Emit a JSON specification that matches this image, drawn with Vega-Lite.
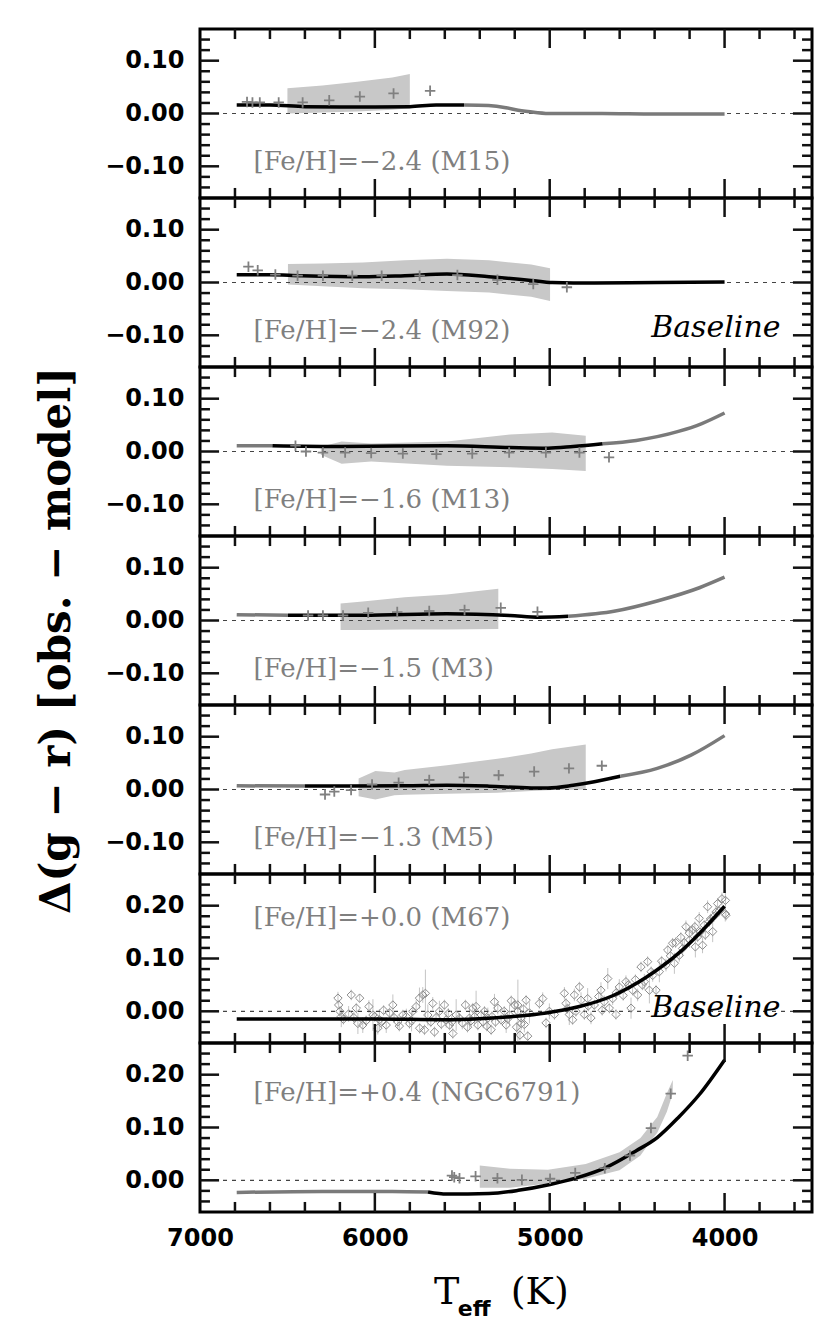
{
"$schema":"https://vega.github.io/schema/vega-lite/v6.json",
"background":"white",
"padding":{"left":34,"top":26,"right":4,"bottom":4},
"autosize":{"type":"pad"},
"spacing":0,
"bounds":"flush",
"datasets":{
"xmaj":[{"v":6000},{"v":5000},{"v":4000}],
"xmin":[{"v":6800},{"v":6600},{"v":6400},{"v":6200},{"v":5800},{"v":5600},{"v":5400},{"v":5200},{"v":4800},{"v":4600},{"v":4400},{"v":4200},{"v":3800},{"v":3600}],
"ymaj1":[{"v":-0.1},{"v":0},{"v":0.1}],
"ymin1":[{"v":-0.14},{"v":-0.12},{"v":-0.08},{"v":-0.06},{"v":-0.04},{"v":-0.02},{"v":0.02},{"v":0.04},{"v":0.06},{"v":0.08},{"v":0.12},{"v":0.14}],
"ymaj2":[{"v":0},{"v":0.1},{"v":0.2}],
"ymin2":[{"v":-0.04},{"v":-0.02},{"v":0.02},{"v":0.04},{"v":0.06},{"v":0.08},{"v":0.12},{"v":0.14},{"v":0.16},{"v":0.18},{"v":0.22},{"v":0.24}],
"lines":[
{"p":"M15","s":"a","c":"k","T":6790,"y":0.016},{"p":"M15","s":"a","c":"k","T":6600,"y":0.016},{"p":"M15","s":"a","c":"k","T":6400,"y":0.013},{"p":"M15","s":"a","c":"k","T":6200,"y":0.0125},{"p":"M15","s":"a","c":"k","T":6000,"y":0.0125},{"p":"M15","s":"a","c":"k","T":5800,"y":0.013},{"p":"M15","s":"a","c":"k","T":5650,"y":0.016},{"p":"M15","s":"a","c":"k","T":5490,"y":0.016},
{"p":"M15","s":"b","c":"g","T":5490,"y":0.016},{"p":"M15","s":"b","c":"g","T":5350,"y":0.015},{"p":"M15","s":"b","c":"g","T":5250,"y":0.011},{"p":"M15","s":"b","c":"g","T":5180,"y":0.006},{"p":"M15","s":"b","c":"g","T":5080,"y":0.002},{"p":"M15","s":"b","c":"g","T":4990,"y":0.0},{"p":"M15","s":"b","c":"g","T":4700,"y":0.0},{"p":"M15","s":"b","c":"g","T":4400,"y":-0.001},{"p":"M15","s":"b","c":"g","T":4000,"y":-0.001},
{"p":"M92","s":"a","c":"k","T":6790,"y":0.0146},{"p":"M92","s":"a","c":"k","T":6600,"y":0.0146},{"p":"M92","s":"a","c":"k","T":6430,"y":0.013},{"p":"M92","s":"a","c":"k","T":6069,"y":0.011},{"p":"M92","s":"a","c":"k","T":5829,"y":0.013},{"p":"M92","s":"a","c":"k","T":5588,"y":0.016},{"p":"M92","s":"a","c":"k","T":5347,"y":0.011},{"p":"M92","s":"a","c":"k","T":5106,"y":0.004},{"p":"M92","s":"a","c":"k","T":4986,"y":0.0},{"p":"M92","s":"a","c":"k","T":4745,"y":-0.001},{"p":"M92","s":"a","c":"k","T":4385,"y":0.0},{"p":"M92","s":"a","c":"k","T":4000,"y":0.001},
{"p":"M13","s":"a","c":"g","T":6790,"y":0.011},{"p":"M13","s":"a","c":"g","T":6586,"y":0.011},
{"p":"M13","s":"b","c":"k","T":6586,"y":0.011},{"p":"M13","s":"b","c":"k","T":6190,"y":0.0095},{"p":"M13","s":"b","c":"k","T":5588,"y":0.011},{"p":"M13","s":"b","c":"k","T":5227,"y":0.0076},{"p":"M13","s":"b","c":"k","T":5010,"y":0.0063},{"p":"M13","s":"b","c":"k","T":4866,"y":0.0095},{"p":"M13","s":"b","c":"k","T":4697,"y":0.0146},
{"p":"M13","s":"c","c":"g","T":4697,"y":0.0146},{"p":"M13","s":"c","c":"g","T":4505,"y":0.021},{"p":"M13","s":"c","c":"g","T":4264,"y":0.038},{"p":"M13","s":"c","c":"g","T":4130,"y":0.053},{"p":"M13","s":"c","c":"g","T":4000,"y":0.073},
{"p":"M3","s":"a","c":"g","T":6790,"y":0.011},{"p":"M3","s":"a","c":"g","T":6497,"y":0.010},
{"p":"M3","s":"b","c":"k","T":6497,"y":0.010},{"p":"M3","s":"b","c":"k","T":6069,"y":0.010},{"p":"M3","s":"b","c":"k","T":5588,"y":0.0127},{"p":"M3","s":"b","c":"k","T":5227,"y":0.0095},{"p":"M3","s":"b","c":"k","T":5058,"y":0.0063},{"p":"M3","s":"b","c":"k","T":4895,"y":0.008},
{"p":"M3","s":"c","c":"g","T":4895,"y":0.008},{"p":"M3","s":"c","c":"g","T":4625,"y":0.018},{"p":"M3","s":"c","c":"g","T":4385,"y":0.037},{"p":"M3","s":"c","c":"g","T":4144,"y":0.062},{"p":"M3","s":"c","c":"g","T":4000,"y":0.082},
{"p":"M5","s":"a","c":"g","T":6790,"y":0.007},{"p":"M5","s":"a","c":"g","T":6401,"y":0.0065},
{"p":"M5","s":"b","c":"k","T":6401,"y":0.0065},{"p":"M5","s":"b","c":"k","T":5829,"y":0.007},{"p":"M5","s":"b","c":"k","T":5588,"y":0.008},{"p":"M5","s":"b","c":"k","T":5347,"y":0.0063},{"p":"M5","s":"b","c":"k","T":5106,"y":0.003},{"p":"M5","s":"b","c":"k","T":5010,"y":0.003},{"p":"M5","s":"b","c":"k","T":4866,"y":0.008},{"p":"M5","s":"b","c":"k","T":4745,"y":0.0146},{"p":"M5","s":"b","c":"k","T":4596,"y":0.025},
{"p":"M5","s":"c","c":"g","T":4596,"y":0.025},{"p":"M5","s":"c","c":"g","T":4385,"y":0.040},{"p":"M5","s":"c","c":"g","T":4192,"y":0.065},{"p":"M5","s":"c","c":"g","T":4000,"y":0.102},
{"p":"M67","s":"a","c":"k","T":6790,"y":-0.0145},{"p":"M67","s":"a","c":"k","T":6000,"y":-0.0145},{"p":"M67","s":"a","c":"k","T":5600,"y":-0.016},{"p":"M67","s":"a","c":"k","T":5400,"y":-0.014},{"p":"M67","s":"a","c":"k","T":5211,"y":-0.010},{"p":"M67","s":"a","c":"k","T":5021,"y":-0.003},{"p":"M67","s":"a","c":"k","T":4830,"y":0.009},{"p":"M67","s":"a","c":"k","T":4640,"y":0.0295},{"p":"M67","s":"a","c":"k","T":4450,"y":0.064},{"p":"M67","s":"a","c":"k","T":4259,"y":0.111},{"p":"M67","s":"a","c":"k","T":4145,"y":0.147},{"p":"M67","s":"a","c":"k","T":4000,"y":0.199},
{"p":"N6791","s":"a","c":"g","T":6790,"y":-0.023},{"p":"N6791","s":"a","c":"g","T":6300,"y":-0.021},{"p":"N6791","s":"a","c":"g","T":5900,"y":-0.021},{"p":"N6791","s":"a","c":"g","T":5696,"y":-0.022},
{"p":"N6791","s":"b","c":"k","T":5696,"y":-0.022},{"p":"N6791","s":"b","c":"k","T":5588,"y":-0.026},{"p":"N6791","s":"b","c":"k","T":5347,"y":-0.025},{"p":"N6791","s":"b","c":"k","T":5179,"y":-0.019},{"p":"N6791","s":"b","c":"k","T":4998,"y":-0.008},{"p":"N6791","s":"b","c":"k","T":4842,"y":0.005},{"p":"N6791","s":"b","c":"k","T":4673,"y":0.025},{"p":"N6791","s":"b","c":"k","T":4505,"y":0.056},{"p":"N6791","s":"b","c":"k","T":4385,"y":0.081},{"p":"N6791","s":"b","c":"k","T":4264,"y":0.119},{"p":"N6791","s":"b","c":"k","T":4144,"y":0.1625},{"p":"N6791","s":"b","c":"k","T":4000,"y":0.228}
],
"bands":[
{"p":"M15","T":6500,"lo":0.0,"hi":0.048},{"p":"M15","T":6300,"lo":0.002,"hi":0.053},{"p":"M15","T":6100,"lo":0.004,"hi":0.060},{"p":"M15","T":5900,"lo":0.007,"hi":0.068},{"p":"M15","T":5800,"lo":0.010,"hi":0.075},
{"p":"M92","T":6497,"lo":-0.004,"hi":0.035},{"p":"M92","T":6300,"lo":-0.007,"hi":0.036},{"p":"M92","T":6069,"lo":-0.011,"hi":0.038},{"p":"M92","T":5829,"lo":-0.013,"hi":0.042},{"p":"M92","T":5588,"lo":-0.016,"hi":0.045},{"p":"M92","T":5347,"lo":-0.019,"hi":0.042},{"p":"M92","T":5106,"lo":-0.027,"hi":0.034},{"p":"M92","T":4998,"lo":-0.035,"hi":0.027},
{"p":"M13","T":6309,"lo":-0.006,"hi":0.009},{"p":"M13","T":6190,"lo":-0.023,"hi":0.019},{"p":"M13","T":6021,"lo":-0.019,"hi":0.015},{"p":"M13","T":5588,"lo":-0.027,"hi":0.019},{"p":"M13","T":5227,"lo":-0.030,"hi":0.032},{"p":"M13","T":4986,"lo":-0.033,"hi":0.036},{"p":"M13","T":4794,"lo":-0.037,"hi":0.030},
{"p":"M3","T":6196,"lo":-0.018,"hi":0.032},{"p":"M3","T":6069,"lo":-0.018,"hi":0.036},{"p":"M3","T":5829,"lo":-0.017,"hi":0.044},{"p":"M3","T":5588,"lo":-0.017,"hi":0.049},{"p":"M3","T":5294,"lo":-0.016,"hi":0.060},
{"p":"M5","T":6093,"lo":-0.013,"hi":0.021},{"p":"M5","T":5997,"lo":-0.019,"hi":0.035},{"p":"M5","T":5888,"lo":-0.011,"hi":0.032},{"p":"M5","T":5829,"lo":-0.010,"hi":0.037},{"p":"M5","T":5588,"lo":-0.008,"hi":0.046},{"p":"M5","T":5299,"lo":-0.006,"hi":0.058},{"p":"M5","T":5106,"lo":-0.003,"hi":0.068},{"p":"M5","T":4986,"lo":-0.001,"hi":0.076},{"p":"M5","T":4794,"lo":0.0,"hi":0.085},
{"p":"N6791","T":5400,"lo":-0.014,"hi":0.028},{"p":"N6791","T":5227,"lo":-0.014,"hi":0.022},{"p":"N6791","T":5010,"lo":-0.006,"hi":0.020},{"p":"N6791","T":4794,"lo":0.003,"hi":0.031},{"p":"N6791","T":4601,"lo":0.019,"hi":0.053},{"p":"N6791","T":4481,"lo":0.047,"hi":0.080},{"p":"N6791","T":4421,"lo":0.075,"hi":0.105},{"p":"N6791","T":4385,"lo":0.090,"hi":0.120},{"p":"N6791","T":4330,"lo":0.130,"hi":0.165},{"p":"N6791","T":4296,"lo":0.165,"hi":0.190}
],
"plus":[
{"p":"M15","T":6731,"y":0.022},{"p":"M15","T":6700,"y":0.021},{"p":"M15","T":6658,"y":0.021},{"p":"M15","T":6550,"y":0.021},{"p":"M15","T":6413,"y":0.021},{"p":"M15","T":6261,"y":0.025},{"p":"M15","T":6086,"y":0.032},{"p":"M15","T":5893,"y":0.038},{"p":"M15","T":5684,"y":0.043},
{"p":"M92","T":6723,"y":0.030},{"p":"M92","T":6670,"y":0.023},{"p":"M92","T":6569,"y":0.015},{"p":"M92","T":6442,"y":0.013},{"p":"M92","T":6297,"y":0.013},{"p":"M92","T":6129,"y":0.013},{"p":"M92","T":5961,"y":0.013},{"p":"M92","T":5744,"y":0.013},{"p":"M92","T":5528,"y":0.014},{"p":"M92","T":5299,"y":0.005},{"p":"M92","T":5094,"y":-0.003},{"p":"M92","T":4902,"y":-0.009},
{"p":"M13","T":6454,"y":0.011},{"p":"M13","T":6394,"y":0.0},{"p":"M13","T":6297,"y":-0.002},{"p":"M13","T":6170,"y":-0.002},{"p":"M13","T":6021,"y":-0.003},{"p":"M13","T":5840,"y":-0.004},{"p":"M13","T":5648,"y":-0.005},{"p":"M13","T":5443,"y":-0.004},{"p":"M13","T":5232,"y":-0.002},{"p":"M13","T":5022,"y":-0.002},{"p":"M13","T":4830,"y":-0.002},{"p":"M13","T":4661,"y":-0.011},
{"p":"M3","T":6382,"y":0.0095},{"p":"M3","T":6297,"y":0.0095},{"p":"M3","T":6182,"y":0.0095},{"p":"M3","T":6038,"y":0.0146},{"p":"M3","T":5872,"y":0.016},{"p":"M3","T":5689,"y":0.018},{"p":"M3","T":5487,"y":0.020},{"p":"M3","T":5280,"y":0.024},{"p":"M3","T":5070,"y":0.0165},
{"p":"M5","T":6285,"y":-0.0095},{"p":"M5","T":6232,"y":-0.004},{"p":"M5","T":6136,"y":-0.001},{"p":"M5","T":6016,"y":0.0095},{"p":"M5","T":5864,"y":0.013},{"p":"M5","T":5689,"y":0.018},{"p":"M5","T":5491,"y":0.023},{"p":"M5","T":5292,"y":0.027},{"p":"M5","T":5089,"y":0.034},{"p":"M5","T":4890,"y":0.040},{"p":"M5","T":4702,"y":0.045},
{"p":"N6791","T":5559,"y":0.009},{"p":"N6791","T":5546,"y":0.006},{"p":"N6791","T":5516,"y":0.004},{"p":"N6791","T":5424,"y":0.0075},{"p":"N6791","T":5299,"y":0.004},{"p":"N6791","T":5159,"y":0.001},{"p":"N6791","T":4998,"y":0.003},{"p":"N6791","T":4854,"y":0.014},{"p":"N6791","T":4685,"y":0.023},{"p":"N6791","T":4541,"y":0.047},{"p":"N6791","T":4421,"y":0.099},{"p":"N6791","T":4308,"y":0.164},{"p":"N6791","T":4211,"y":0.236}
],
"m67":[
{"T":6211,"y":0.025,"e":0.012},{"T":6207,"y":0.012,"e":0.008},{"T":6200,"y":0.0,"e":0.01},{"T":6192,"y":-0.010,"e":0.02},{"T":6180,"y":-0.015,"e":0.01},{"T":6150,"y":-0.005,"e":0.015},{"T":6135,"y":0.031,"e":0.01},{"T":6120,"y":-0.012,"e":0.012},{"T":6106,"y":0.006,"e":0.01},{"T":6097,"y":-0.023,"e":0.02},{"T":6087,"y":0.025,"e":0.008},{"T":6069,"y":-0.026,"e":0.015},{"T":6050,"y":-0.018,"e":0.01},{"T":6034,"y":0.009,"e":0.012},{"T":6011,"y":-0.007,"e":0.03},{"T":6000,"y":-0.010,"e":0.01},{"T":5983,"y":-0.032,"e":0.012},{"T":5974,"y":-0.016,"e":0.02},{"T":5960,"y":-0.020,"e":0.01},{"T":5950,"y":0.002,"e":0.01},{"T":5935,"y":-0.026,"e":0.015},{"T":5916,"y":-0.003,"e":0.01},{"T":5897,"y":0.012,"e":0.02},{"T":5890,"y":-0.012,"e":0.01},{"T":5869,"y":-0.020,"e":0.012},{"T":5860,"y":-0.028,"e":0.01},{"T":5840,"y":-0.007,"e":0.01},{"T":5820,"y":-0.010,"e":0.015},{"T":5802,"y":-0.023,"e":0.01},{"T":5790,"y":-0.018,"e":0.02},{"T":5783,"y":0.0,"e":0.01},{"T":5764,"y":0.009,"e":0.012},{"T":5745,"y":0.025,"e":0.02},{"T":5744,"y":-0.032,"e":0.01},{"T":5726,"y":0.031,"e":0.015},{"T":5716,"y":-0.035,"e":0.01},{"T":5711,"y":0.034,"e":0.045},{"T":5697,"y":-0.007,"e":0.02},{"T":5680,"y":-0.020,"e":0.01},{"T":5669,"y":0.015,"e":0.012},{"T":5659,"y":-0.039,"e":0.01},{"T":5650,"y":-0.012,"e":0.01},{"T":5631,"y":0.0,"e":0.02},{"T":5620,"y":-0.024,"e":0.01},{"T":5602,"y":0.012,"e":0.01},{"T":5592,"y":-0.016,"e":0.015},{"T":5580,"y":-0.004,"e":0.01},{"T":5573,"y":-0.026,"e":0.01},{"T":5560,"y":-0.020,"e":0.012},{"T":5554,"y":-0.042,"e":0.01},{"T":5535,"y":-0.007,"e":0.03},{"T":5516,"y":-0.013,"e":0.01},{"T":5500,"y":-0.022,"e":0.012},{"T":5482,"y":0.012,"e":0.01},{"T":5470,"y":-0.030,"e":0.01},{"T":5459,"y":-0.013,"e":0.02},{"T":5450,"y":-0.018,"e":0.01},{"T":5440,"y":0.006,"e":0.01},{"T":5430,"y":-0.010,"e":0.015},{"T":5421,"y":0.009,"e":0.03},{"T":5411,"y":-0.026,"e":0.01},{"T":5392,"y":-0.007,"e":0.01},{"T":5380,"y":-0.020,"e":0.012},{"T":5373,"y":0.0,"e":0.01},{"T":5360,"y":-0.028,"e":0.01},{"T":5354,"y":-0.013,"e":0.02},{"T":5335,"y":-0.035,"e":0.01},{"T":5330,"y":-0.010,"e":0.01},{"T":5316,"y":0.018,"e":0.015},{"T":5310,"y":-0.020,"e":0.01},{"T":5297,"y":0.006,"e":0.012},{"T":5278,"y":-0.016,"e":0.01},{"T":5260,"y":0.0,"e":0.01},{"T":5249,"y":-0.026,"e":0.015},{"T":5240,"y":-0.014,"e":0.01},{"T":5230,"y":-0.007,"e":0.02},{"T":5220,"y":0.020,"e":0.01},{"T":5201,"y":0.012,"e":0.012},{"T":5190,"y":-0.030,"e":0.01},{"T":5182,"y":0.0,"e":0.06},{"T":5170,"y":-0.045,"e":0.01},{"T":5163,"y":-0.023,"e":0.012},{"T":5150,"y":0.004,"e":0.01},
{"T":5183,"y":0.012,"e":0.01},{"T":5164,"y":-0.0125,"e":0.01},{"T":5145,"y":-0.025,"e":0.015},{"T":5135,"y":0.021,"e":0.01},{"T":5126,"y":-0.047,"e":0.01},{"T":5116,"y":-0.003,"e":0.02},{"T":5059,"y":0.015,"e":0.01},{"T":5040,"y":0.024,"e":0.012},{"T":5021,"y":-0.022,"e":0.01},{"T":5002,"y":0.0,"e":0.015},{"T":4973,"y":-0.006,"e":0.01},{"T":4916,"y":0.034,"e":0.012},{"T":4907,"y":0.015,"e":0.01},{"T":4900,"y":0.005,"e":0.01},{"T":4888,"y":-0.006,"e":0.02},{"T":4869,"y":-0.016,"e":0.01},{"T":4859,"y":0.031,"e":0.012},{"T":4850,"y":0.0,"e":0.01},{"T":4830,"y":0.046,"e":0.01},{"T":4821,"y":0.021,"e":0.015},{"T":4802,"y":-0.006,"e":0.01},{"T":4783,"y":0.024,"e":0.02},{"T":4780,"y":0.010,"e":0.01},{"T":4764,"y":-0.0125,"e":0.012},{"T":4745,"y":0.012,"e":0.01},{"T":4720,"y":0.028,"e":0.01},{"T":4707,"y":0.040,"e":0.015},{"T":4700,"y":0.002,"e":0.01},{"T":4688,"y":0.018,"e":0.012},{"T":4668,"y":0.062,"e":0.02},{"T":4659,"y":0.006,"e":0.01},{"T":4640,"y":0.024,"e":0.012},{"T":4621,"y":-0.006,"e":0.01},{"T":4620,"y":0.035,"e":0.01},{"T":4602,"y":0.046,"e":0.015},{"T":4580,"y":0.030,"e":0.01},{"T":4564,"y":0.056,"e":0.012},{"T":4550,"y":0.050,"e":0.01},{"T":4535,"y":0.006,"e":0.02},{"T":4526,"y":0.040,"e":0.01},{"T":4510,"y":0.060,"e":0.01},{"T":4497,"y":0.031,"e":0.012},{"T":4478,"y":0.084,"e":0.01},{"T":4470,"y":0.050,"e":0.01},{"T":4459,"y":0.056,"e":0.015},{"T":4440,"y":0.094,"e":0.01},{"T":4430,"y":0.040,"e":0.025},{"T":4420,"y":0.075,"e":0.01},{"T":4411,"y":0.068,"e":0.012},{"T":4392,"y":0.040,"e":0.01},{"T":4373,"y":0.075,"e":0.02},{"T":4360,"y":0.095,"e":0.01},{"T":4335,"y":0.0876,"e":0.012},{"T":4325,"y":0.116,"e":0.01},{"T":4310,"y":0.105,"e":0.015},{"T":4297,"y":0.129,"e":0.01},{"T":4287,"y":0.091,"e":0.02},{"T":4280,"y":0.130,"e":0.01},{"T":4259,"y":0.106,"e":0.012},{"T":4250,"y":0.140,"e":0.01},{"T":4240,"y":0.119,"e":0.015},{"T":4230,"y":0.130,"e":0.01},{"T":4221,"y":0.160,"e":0.012},{"T":4202,"y":0.148,"e":0.01},{"T":4200,"y":0.135,"e":0.015},{"T":4183,"y":0.154,"e":0.01},{"T":4170,"y":0.160,"e":0.01},{"T":4167,"y":0.122,"e":0.02},{"T":4154,"y":0.141,"e":0.01},{"T":4145,"y":0.176,"e":0.012},{"T":4140,"y":0.150,"e":0.01},{"T":4126,"y":0.125,"e":0.015},{"T":4116,"y":0.163,"e":0.01},{"T":4110,"y":0.145,"e":0.01},{"T":4097,"y":0.198,"e":0.012},{"T":4087,"y":0.170,"e":0.01},{"T":4080,"y":0.175,"e":0.01},{"T":4068,"y":0.151,"e":0.02},{"T":4060,"y":0.180,"e":0.01},{"T":4049,"y":0.188,"e":0.012},{"T":4040,"y":0.204,"e":0.01},{"T":4030,"y":0.190,"e":0.01},{"T":4015,"y":0.213,"e":0.012},{"T":3995,"y":0.210,"e":0.02},{"T":3996,"y":0.185,"e":0.015},{"T":3992,"y":0.182,"e":0.01}
]
},
"vconcat":[
{"width":612,"height":169,"layer":[
{"data":{"name":"lines"},"transform":[{"filter":"datum.p==='M15'"}],"mark":{"type":"point","opacity":0},"encoding":{"x":{"field":"T","type":"quantitative","scale":{"domain":[3500,7000],"reverse":true,"nice":false,"zero":false},"axis":null},"y":{"field":"y","type":"quantitative","scale":{"domain":[-0.16,0.16],"nice":false,"zero":false},"axis":{"orient":"left","values":[-0.1,0,0.1],"format":".2f","ticks":false,"domain":false,"labelPadding":16,"title":null}}}},
{"data":{"name":"bands"},"transform":[{"filter":"datum.p==='M15'"}],"mark":{"type":"area","color":"#c8c8c8"},"encoding":{"x":{"field":"T","type":"quantitative","axis":null},"y":{"field":"lo","type":"quantitative","axis":null},"y2":{"field":"hi"}}},
{"data":{"values":[{}]},"mark":{"type":"rule","color":"#444444","strokeWidth":1.2,"strokeDash":[4,5]},"encoding":{"y":{"datum":0,"type":"quantitative","axis":null}}},
{"data":{"name":"lines"},"transform":[{"filter":"datum.p==='M15'"}],"mark":{"type":"line","strokeWidth":3.5,"interpolate":"monotone"},"encoding":{"x":{"field":"T","type":"quantitative","axis":null},"y":{"field":"y","type":"quantitative","axis":null},"color":{"field":"c","type":"nominal","scale":{"domain":["k","g"],"range":["#000000","#7a7a7a"]},"legend":null},"detail":{"field":"s"}}},
{"data":{"name":"plus"},"transform":[{"filter":"datum.p==='M15'"}],"mark":{"type":"point","shape":"M-1,0L1,0M0,-1L0,1","size":110,"filled":false,"color":"#808080","strokeWidth":1.8,"opacity":1},"encoding":{"x":{"field":"T","type":"quantitative","axis":null},"y":{"field":"y","type":"quantitative","axis":null}}},
{"data":{"values":[{}]},"mark":{"type":"text","align":"left","baseline":"alphabetic","font":"DejaVu Serif","fontSize":26,"color":"#7f7f7f","text":"[Fe/H]=−2.4 (M15)"},"encoding":{"x":{"datum":6694,"type":"quantitative","axis":null},"y":{"datum":-0.107,"type":"quantitative","axis":null}}},
{"data":{"name":"xmaj"},"mark":{"type":"rule","color":"#111111","strokeWidth":2.5},"encoding":{"x":{"field":"v","type":"quantitative","axis":null},"y":{"datum":-0.16,"type":"quantitative","axis":null},"y2":{"datum":-0.124}}},
{"data":{"name":"xmin"},"mark":{"type":"rule","color":"#111111","strokeWidth":2.5},"encoding":{"x":{"field":"v","type":"quantitative","axis":null},"y":{"datum":-0.16,"type":"quantitative","axis":null},"y2":{"datum":-0.141}}},
{"data":{"name":"xmaj"},"mark":{"type":"rule","color":"#111111","strokeWidth":2.5},"encoding":{"x":{"field":"v","type":"quantitative","axis":null},"y":{"datum":0.16,"type":"quantitative","axis":null},"y2":{"datum":0.124}}},
{"data":{"name":"xmin"},"mark":{"type":"rule","color":"#111111","strokeWidth":2.5},"encoding":{"x":{"field":"v","type":"quantitative","axis":null},"y":{"datum":0.16,"type":"quantitative","axis":null},"y2":{"datum":0.141}}},
{"data":{"name":"ymaj1"},"mark":{"type":"rule","color":"#111111","strokeWidth":2.5},"encoding":{"y":{"field":"v","type":"quantitative","axis":null},"x":{"datum":7000,"type":"quantitative","axis":null},"x2":{"datum":6891}}},
{"data":{"name":"ymin1"},"mark":{"type":"rule","color":"#111111","strokeWidth":2.5},"encoding":{"y":{"field":"v","type":"quantitative","axis":null},"x":{"datum":7000,"type":"quantitative","axis":null},"x2":{"datum":6943}}},
{"data":{"name":"ymaj1"},"mark":{"type":"rule","color":"#111111","strokeWidth":2.5},"encoding":{"y":{"field":"v","type":"quantitative","axis":null},"x":{"datum":3500,"type":"quantitative","axis":null},"x2":{"datum":3609}}},
{"data":{"name":"ymin1"},"mark":{"type":"rule","color":"#111111","strokeWidth":2.5},"encoding":{"y":{"field":"v","type":"quantitative","axis":null},"x":{"datum":3500,"type":"quantitative","axis":null},"x2":{"datum":3557}}}
],"resolve":{"axis":{"x":"independent","y":"independent"}}},

{"width":612,"height":169,"layer":[
{"data":{"name":"lines"},"transform":[{"filter":"datum.p==='M92'"}],"mark":{"type":"point","opacity":0},"encoding":{"x":{"field":"T","type":"quantitative","scale":{"domain":[3500,7000],"reverse":true,"nice":false,"zero":false},"axis":null},"y":{"field":"y","type":"quantitative","scale":{"domain":[-0.16,0.16],"nice":false,"zero":false},"axis":{"orient":"left","values":[-0.1,0,0.1],"format":".2f","ticks":false,"domain":false,"labelPadding":16,"title":null}}}},
{"data":{"name":"bands"},"transform":[{"filter":"datum.p==='M92'"}],"mark":{"type":"area","color":"#c8c8c8"},"encoding":{"x":{"field":"T","type":"quantitative","axis":null},"y":{"field":"lo","type":"quantitative","axis":null},"y2":{"field":"hi"}}},
{"data":{"values":[{}]},"mark":{"type":"rule","color":"#444444","strokeWidth":1.2,"strokeDash":[4,5]},"encoding":{"y":{"datum":0,"type":"quantitative","axis":null}}},
{"data":{"name":"lines"},"transform":[{"filter":"datum.p==='M92'"}],"mark":{"type":"line","strokeWidth":3.5,"interpolate":"monotone"},"encoding":{"x":{"field":"T","type":"quantitative","axis":null},"y":{"field":"y","type":"quantitative","axis":null},"color":{"field":"c","type":"nominal","scale":{"domain":["k","g"],"range":["#000000","#7a7a7a"]},"legend":null},"detail":{"field":"s"}}},
{"data":{"name":"plus"},"transform":[{"filter":"datum.p==='M92'"}],"mark":{"type":"point","shape":"M-1,0L1,0M0,-1L0,1","size":110,"filled":false,"color":"#808080","strokeWidth":1.8,"opacity":1},"encoding":{"x":{"field":"T","type":"quantitative","axis":null},"y":{"field":"y","type":"quantitative","axis":null}}},
{"data":{"values":[{}]},"mark":{"type":"text","align":"left","baseline":"alphabetic","font":"DejaVu Serif","fontSize":26,"color":"#7f7f7f","text":"[Fe/H]=−2.4 (M92)"},"encoding":{"x":{"datum":6694,"type":"quantitative","axis":null},"y":{"datum":-0.107,"type":"quantitative","axis":null}}},
{"data":{"values":[{}]},"mark":{"type":"text","align":"right","baseline":"alphabetic","font":"DejaVu Serif","fontStyle":"italic","fontSize":30,"color":"#000000","text":"Baseline"},"encoding":{"x":{"datum":3680,"type":"quantitative","axis":null},"y":{"datum":-0.104,"type":"quantitative","axis":null}}},
{"data":{"name":"xmaj"},"mark":{"type":"rule","color":"#111111","strokeWidth":2.5},"encoding":{"x":{"field":"v","type":"quantitative","axis":null},"y":{"datum":-0.16,"type":"quantitative","axis":null},"y2":{"datum":-0.124}}},
{"data":{"name":"xmin"},"mark":{"type":"rule","color":"#111111","strokeWidth":2.5},"encoding":{"x":{"field":"v","type":"quantitative","axis":null},"y":{"datum":-0.16,"type":"quantitative","axis":null},"y2":{"datum":-0.141}}},
{"data":{"name":"xmaj"},"mark":{"type":"rule","color":"#111111","strokeWidth":2.5},"encoding":{"x":{"field":"v","type":"quantitative","axis":null},"y":{"datum":0.16,"type":"quantitative","axis":null},"y2":{"datum":0.124}}},
{"data":{"name":"xmin"},"mark":{"type":"rule","color":"#111111","strokeWidth":2.5},"encoding":{"x":{"field":"v","type":"quantitative","axis":null},"y":{"datum":0.16,"type":"quantitative","axis":null},"y2":{"datum":0.141}}},
{"data":{"name":"ymaj1"},"mark":{"type":"rule","color":"#111111","strokeWidth":2.5},"encoding":{"y":{"field":"v","type":"quantitative","axis":null},"x":{"datum":7000,"type":"quantitative","axis":null},"x2":{"datum":6891}}},
{"data":{"name":"ymin1"},"mark":{"type":"rule","color":"#111111","strokeWidth":2.5},"encoding":{"y":{"field":"v","type":"quantitative","axis":null},"x":{"datum":7000,"type":"quantitative","axis":null},"x2":{"datum":6943}}},
{"data":{"name":"ymaj1"},"mark":{"type":"rule","color":"#111111","strokeWidth":2.5},"encoding":{"y":{"field":"v","type":"quantitative","axis":null},"x":{"datum":3500,"type":"quantitative","axis":null},"x2":{"datum":3609}}},
{"data":{"name":"ymin1"},"mark":{"type":"rule","color":"#111111","strokeWidth":2.5},"encoding":{"y":{"field":"v","type":"quantitative","axis":null},"x":{"datum":3500,"type":"quantitative","axis":null},"x2":{"datum":3557}}}
],"resolve":{"axis":{"x":"independent","y":"independent"}}},

{"width":612,"height":169,"layer":[
{"data":{"name":"lines"},"transform":[{"filter":"datum.p==='M13'"}],"mark":{"type":"point","opacity":0},"encoding":{"x":{"field":"T","type":"quantitative","scale":{"domain":[3500,7000],"reverse":true,"nice":false,"zero":false},"axis":null},"y":{"field":"y","type":"quantitative","scale":{"domain":[-0.16,0.16],"nice":false,"zero":false},"axis":{"orient":"left","values":[-0.1,0,0.1],"format":".2f","ticks":false,"domain":false,"labelPadding":16,"title":null}}}},
{"data":{"name":"bands"},"transform":[{"filter":"datum.p==='M13'"}],"mark":{"type":"area","color":"#c8c8c8"},"encoding":{"x":{"field":"T","type":"quantitative","axis":null},"y":{"field":"lo","type":"quantitative","axis":null},"y2":{"field":"hi"}}},
{"data":{"values":[{}]},"mark":{"type":"rule","color":"#444444","strokeWidth":1.2,"strokeDash":[4,5]},"encoding":{"y":{"datum":0,"type":"quantitative","axis":null}}},
{"data":{"name":"lines"},"transform":[{"filter":"datum.p==='M13'"}],"mark":{"type":"line","strokeWidth":3.5,"interpolate":"monotone"},"encoding":{"x":{"field":"T","type":"quantitative","axis":null},"y":{"field":"y","type":"quantitative","axis":null},"color":{"field":"c","type":"nominal","scale":{"domain":["k","g"],"range":["#000000","#7a7a7a"]},"legend":null},"detail":{"field":"s"}}},
{"data":{"name":"plus"},"transform":[{"filter":"datum.p==='M13'"}],"mark":{"type":"point","shape":"M-1,0L1,0M0,-1L0,1","size":110,"filled":false,"color":"#808080","strokeWidth":1.8,"opacity":1},"encoding":{"x":{"field":"T","type":"quantitative","axis":null},"y":{"field":"y","type":"quantitative","axis":null}}},
{"data":{"values":[{}]},"mark":{"type":"text","align":"left","baseline":"alphabetic","font":"DejaVu Serif","fontSize":26,"color":"#7f7f7f","text":"[Fe/H]=−1.6 (M13)"},"encoding":{"x":{"datum":6694,"type":"quantitative","axis":null},"y":{"datum":-0.107,"type":"quantitative","axis":null}}},
{"data":{"name":"xmaj"},"mark":{"type":"rule","color":"#111111","strokeWidth":2.5},"encoding":{"x":{"field":"v","type":"quantitative","axis":null},"y":{"datum":-0.16,"type":"quantitative","axis":null},"y2":{"datum":-0.124}}},
{"data":{"name":"xmin"},"mark":{"type":"rule","color":"#111111","strokeWidth":2.5},"encoding":{"x":{"field":"v","type":"quantitative","axis":null},"y":{"datum":-0.16,"type":"quantitative","axis":null},"y2":{"datum":-0.141}}},
{"data":{"name":"xmaj"},"mark":{"type":"rule","color":"#111111","strokeWidth":2.5},"encoding":{"x":{"field":"v","type":"quantitative","axis":null},"y":{"datum":0.16,"type":"quantitative","axis":null},"y2":{"datum":0.124}}},
{"data":{"name":"xmin"},"mark":{"type":"rule","color":"#111111","strokeWidth":2.5},"encoding":{"x":{"field":"v","type":"quantitative","axis":null},"y":{"datum":0.16,"type":"quantitative","axis":null},"y2":{"datum":0.141}}},
{"data":{"name":"ymaj1"},"mark":{"type":"rule","color":"#111111","strokeWidth":2.5},"encoding":{"y":{"field":"v","type":"quantitative","axis":null},"x":{"datum":7000,"type":"quantitative","axis":null},"x2":{"datum":6891}}},
{"data":{"name":"ymin1"},"mark":{"type":"rule","color":"#111111","strokeWidth":2.5},"encoding":{"y":{"field":"v","type":"quantitative","axis":null},"x":{"datum":7000,"type":"quantitative","axis":null},"x2":{"datum":6943}}},
{"data":{"name":"ymaj1"},"mark":{"type":"rule","color":"#111111","strokeWidth":2.5},"encoding":{"y":{"field":"v","type":"quantitative","axis":null},"x":{"datum":3500,"type":"quantitative","axis":null},"x2":{"datum":3609}}},
{"data":{"name":"ymin1"},"mark":{"type":"rule","color":"#111111","strokeWidth":2.5},"encoding":{"y":{"field":"v","type":"quantitative","axis":null},"x":{"datum":3500,"type":"quantitative","axis":null},"x2":{"datum":3557}}}
],"resolve":{"axis":{"x":"independent","y":"independent"}}},

{"width":612,"height":169,"layer":[
{"data":{"name":"lines"},"transform":[{"filter":"datum.p==='M3'"}],"mark":{"type":"point","opacity":0},"encoding":{"x":{"field":"T","type":"quantitative","scale":{"domain":[3500,7000],"reverse":true,"nice":false,"zero":false},"axis":null},"y":{"field":"y","type":"quantitative","scale":{"domain":[-0.16,0.16],"nice":false,"zero":false},"axis":{"orient":"left","values":[-0.1,0,0.1],"format":".2f","ticks":false,"domain":false,"labelPadding":16,"title":"Δ(g − r) [obs. − model]","titleFont":"DejaVu Serif","titleFontSize":42,"titleFontWeight":"bold","titleColor":"#000000","titlePadding":26,"titleY":104}}}},
{"data":{"name":"bands"},"transform":[{"filter":"datum.p==='M3'"}],"mark":{"type":"area","color":"#c8c8c8"},"encoding":{"x":{"field":"T","type":"quantitative","axis":null},"y":{"field":"lo","type":"quantitative","axis":null},"y2":{"field":"hi"}}},
{"data":{"values":[{}]},"mark":{"type":"rule","color":"#444444","strokeWidth":1.2,"strokeDash":[4,5]},"encoding":{"y":{"datum":0,"type":"quantitative","axis":null}}},
{"data":{"name":"lines"},"transform":[{"filter":"datum.p==='M3'"}],"mark":{"type":"line","strokeWidth":3.5,"interpolate":"monotone"},"encoding":{"x":{"field":"T","type":"quantitative","axis":null},"y":{"field":"y","type":"quantitative","axis":null},"color":{"field":"c","type":"nominal","scale":{"domain":["k","g"],"range":["#000000","#7a7a7a"]},"legend":null},"detail":{"field":"s"}}},
{"data":{"name":"plus"},"transform":[{"filter":"datum.p==='M3'"}],"mark":{"type":"point","shape":"M-1,0L1,0M0,-1L0,1","size":110,"filled":false,"color":"#808080","strokeWidth":1.8,"opacity":1},"encoding":{"x":{"field":"T","type":"quantitative","axis":null},"y":{"field":"y","type":"quantitative","axis":null}}},
{"data":{"values":[{}]},"mark":{"type":"text","align":"left","baseline":"alphabetic","font":"DejaVu Serif","fontSize":26,"color":"#7f7f7f","text":"[Fe/H]=−1.5 (M3)"},"encoding":{"x":{"datum":6694,"type":"quantitative","axis":null},"y":{"datum":-0.107,"type":"quantitative","axis":null}}},
{"data":{"name":"xmaj"},"mark":{"type":"rule","color":"#111111","strokeWidth":2.5},"encoding":{"x":{"field":"v","type":"quantitative","axis":null},"y":{"datum":-0.16,"type":"quantitative","axis":null},"y2":{"datum":-0.124}}},
{"data":{"name":"xmin"},"mark":{"type":"rule","color":"#111111","strokeWidth":2.5},"encoding":{"x":{"field":"v","type":"quantitative","axis":null},"y":{"datum":-0.16,"type":"quantitative","axis":null},"y2":{"datum":-0.141}}},
{"data":{"name":"xmaj"},"mark":{"type":"rule","color":"#111111","strokeWidth":2.5},"encoding":{"x":{"field":"v","type":"quantitative","axis":null},"y":{"datum":0.16,"type":"quantitative","axis":null},"y2":{"datum":0.124}}},
{"data":{"name":"xmin"},"mark":{"type":"rule","color":"#111111","strokeWidth":2.5},"encoding":{"x":{"field":"v","type":"quantitative","axis":null},"y":{"datum":0.16,"type":"quantitative","axis":null},"y2":{"datum":0.141}}},
{"data":{"name":"ymaj1"},"mark":{"type":"rule","color":"#111111","strokeWidth":2.5},"encoding":{"y":{"field":"v","type":"quantitative","axis":null},"x":{"datum":7000,"type":"quantitative","axis":null},"x2":{"datum":6891}}},
{"data":{"name":"ymin1"},"mark":{"type":"rule","color":"#111111","strokeWidth":2.5},"encoding":{"y":{"field":"v","type":"quantitative","axis":null},"x":{"datum":7000,"type":"quantitative","axis":null},"x2":{"datum":6943}}},
{"data":{"name":"ymaj1"},"mark":{"type":"rule","color":"#111111","strokeWidth":2.5},"encoding":{"y":{"field":"v","type":"quantitative","axis":null},"x":{"datum":3500,"type":"quantitative","axis":null},"x2":{"datum":3609}}},
{"data":{"name":"ymin1"},"mark":{"type":"rule","color":"#111111","strokeWidth":2.5},"encoding":{"y":{"field":"v","type":"quantitative","axis":null},"x":{"datum":3500,"type":"quantitative","axis":null},"x2":{"datum":3557}}}
],"resolve":{"axis":{"x":"independent","y":"independent"}}},

{"width":612,"height":169,"layer":[
{"data":{"name":"lines"},"transform":[{"filter":"datum.p==='M5'"}],"mark":{"type":"point","opacity":0},"encoding":{"x":{"field":"T","type":"quantitative","scale":{"domain":[3500,7000],"reverse":true,"nice":false,"zero":false},"axis":null},"y":{"field":"y","type":"quantitative","scale":{"domain":[-0.16,0.16],"nice":false,"zero":false},"axis":{"orient":"left","values":[-0.1,0,0.1],"format":".2f","ticks":false,"domain":false,"labelPadding":16,"title":null}}}},
{"data":{"name":"bands"},"transform":[{"filter":"datum.p==='M5'"}],"mark":{"type":"area","color":"#c8c8c8"},"encoding":{"x":{"field":"T","type":"quantitative","axis":null},"y":{"field":"lo","type":"quantitative","axis":null},"y2":{"field":"hi"}}},
{"data":{"values":[{}]},"mark":{"type":"rule","color":"#444444","strokeWidth":1.2,"strokeDash":[4,5]},"encoding":{"y":{"datum":0,"type":"quantitative","axis":null}}},
{"data":{"name":"lines"},"transform":[{"filter":"datum.p==='M5'"}],"mark":{"type":"line","strokeWidth":3.5,"interpolate":"monotone"},"encoding":{"x":{"field":"T","type":"quantitative","axis":null},"y":{"field":"y","type":"quantitative","axis":null},"color":{"field":"c","type":"nominal","scale":{"domain":["k","g"],"range":["#000000","#7a7a7a"]},"legend":null},"detail":{"field":"s"}}},
{"data":{"name":"plus"},"transform":[{"filter":"datum.p==='M5'"}],"mark":{"type":"point","shape":"M-1,0L1,0M0,-1L0,1","size":110,"filled":false,"color":"#808080","strokeWidth":1.8,"opacity":1},"encoding":{"x":{"field":"T","type":"quantitative","axis":null},"y":{"field":"y","type":"quantitative","axis":null}}},
{"data":{"values":[{}]},"mark":{"type":"text","align":"left","baseline":"alphabetic","font":"DejaVu Serif","fontSize":26,"color":"#7f7f7f","text":"[Fe/H]=−1.3 (M5)"},"encoding":{"x":{"datum":6694,"type":"quantitative","axis":null},"y":{"datum":-0.107,"type":"quantitative","axis":null}}},
{"data":{"name":"xmaj"},"mark":{"type":"rule","color":"#111111","strokeWidth":2.5},"encoding":{"x":{"field":"v","type":"quantitative","axis":null},"y":{"datum":-0.16,"type":"quantitative","axis":null},"y2":{"datum":-0.124}}},
{"data":{"name":"xmin"},"mark":{"type":"rule","color":"#111111","strokeWidth":2.5},"encoding":{"x":{"field":"v","type":"quantitative","axis":null},"y":{"datum":-0.16,"type":"quantitative","axis":null},"y2":{"datum":-0.141}}},
{"data":{"name":"xmaj"},"mark":{"type":"rule","color":"#111111","strokeWidth":2.5},"encoding":{"x":{"field":"v","type":"quantitative","axis":null},"y":{"datum":0.16,"type":"quantitative","axis":null},"y2":{"datum":0.124}}},
{"data":{"name":"xmin"},"mark":{"type":"rule","color":"#111111","strokeWidth":2.5},"encoding":{"x":{"field":"v","type":"quantitative","axis":null},"y":{"datum":0.16,"type":"quantitative","axis":null},"y2":{"datum":0.141}}},
{"data":{"name":"ymaj1"},"mark":{"type":"rule","color":"#111111","strokeWidth":2.5},"encoding":{"y":{"field":"v","type":"quantitative","axis":null},"x":{"datum":7000,"type":"quantitative","axis":null},"x2":{"datum":6891}}},
{"data":{"name":"ymin1"},"mark":{"type":"rule","color":"#111111","strokeWidth":2.5},"encoding":{"y":{"field":"v","type":"quantitative","axis":null},"x":{"datum":7000,"type":"quantitative","axis":null},"x2":{"datum":6943}}},
{"data":{"name":"ymaj1"},"mark":{"type":"rule","color":"#111111","strokeWidth":2.5},"encoding":{"y":{"field":"v","type":"quantitative","axis":null},"x":{"datum":3500,"type":"quantitative","axis":null},"x2":{"datum":3609}}},
{"data":{"name":"ymin1"},"mark":{"type":"rule","color":"#111111","strokeWidth":2.5},"encoding":{"y":{"field":"v","type":"quantitative","axis":null},"x":{"datum":3500,"type":"quantitative","axis":null},"x2":{"datum":3557}}}
],"resolve":{"axis":{"x":"independent","y":"independent"}}},

{"width":612,"height":169,"layer":[
{"data":{"name":"lines"},"transform":[{"filter":"datum.p==='M67'"}],"mark":{"type":"point","opacity":0},"encoding":{"x":{"field":"T","type":"quantitative","scale":{"domain":[3500,7000],"reverse":true,"nice":false,"zero":false},"axis":null},"y":{"field":"y","type":"quantitative","scale":{"domain":[-0.06,0.26],"nice":false,"zero":false},"axis":{"orient":"left","values":[0,0.1,0.2],"format":".2f","ticks":false,"domain":false,"labelPadding":16,"title":null}}}},
{"data":{"name":"m67"},"mark":{"type":"errorbar","color":"#c4c4c4","thickness":1},"encoding":{"x":{"field":"T","type":"quantitative","axis":null},"y":{"field":"y","type":"quantitative","axis":null},"yError":{"field":"e"}}},
{"data":{"values":[{}]},"mark":{"type":"rule","color":"#444444","strokeWidth":1.2,"strokeDash":[4,5]},"encoding":{"y":{"datum":0,"type":"quantitative","axis":null}}},
{"data":{"name":"m67"},"mark":{"type":"point","shape":"diamond","size":70,"filled":false,"color":"#8c8c8c","strokeWidth":1,"opacity":1},"encoding":{"x":{"field":"T","type":"quantitative","axis":null},"y":{"field":"y","type":"quantitative","axis":null}}},
{"data":{"name":"lines"},"transform":[{"filter":"datum.p==='M67'"}],"mark":{"type":"line","strokeWidth":3.5,"interpolate":"monotone"},"encoding":{"x":{"field":"T","type":"quantitative","axis":null},"y":{"field":"y","type":"quantitative","axis":null},"color":{"field":"c","type":"nominal","scale":{"domain":["k","g"],"range":["#000000","#7a7a7a"]},"legend":null},"detail":{"field":"s"}}},
{"data":{"values":[{}]},"mark":{"type":"text","align":"left","baseline":"alphabetic","font":"DejaVu Serif","fontSize":26,"color":"#7f7f7f","text":"[Fe/H]=+0.0 (M67)"},"encoding":{"x":{"datum":6694,"type":"quantitative","axis":null},"y":{"datum":0.162,"type":"quantitative","axis":null}}},
{"data":{"values":[{}]},"mark":{"type":"text","align":"right","baseline":"alphabetic","font":"DejaVu Serif","fontStyle":"italic","fontSize":30,"color":"#000000","text":"Baseline"},"encoding":{"x":{"datum":3680,"type":"quantitative","axis":null},"y":{"datum":-0.0115,"type":"quantitative","axis":null}}},
{"data":{"name":"xmaj"},"mark":{"type":"rule","color":"#111111","strokeWidth":2.5},"encoding":{"x":{"field":"v","type":"quantitative","axis":null},"y":{"datum":-0.06,"type":"quantitative","axis":null},"y2":{"datum":-0.024}}},
{"data":{"name":"xmin"},"mark":{"type":"rule","color":"#111111","strokeWidth":2.5},"encoding":{"x":{"field":"v","type":"quantitative","axis":null},"y":{"datum":-0.06,"type":"quantitative","axis":null},"y2":{"datum":-0.041}}},
{"data":{"name":"xmaj"},"mark":{"type":"rule","color":"#111111","strokeWidth":2.5},"encoding":{"x":{"field":"v","type":"quantitative","axis":null},"y":{"datum":0.26,"type":"quantitative","axis":null},"y2":{"datum":0.224}}},
{"data":{"name":"xmin"},"mark":{"type":"rule","color":"#111111","strokeWidth":2.5},"encoding":{"x":{"field":"v","type":"quantitative","axis":null},"y":{"datum":0.26,"type":"quantitative","axis":null},"y2":{"datum":0.241}}},
{"data":{"name":"ymaj2"},"mark":{"type":"rule","color":"#111111","strokeWidth":2.5},"encoding":{"y":{"field":"v","type":"quantitative","axis":null},"x":{"datum":7000,"type":"quantitative","axis":null},"x2":{"datum":6891}}},
{"data":{"name":"ymin2"},"mark":{"type":"rule","color":"#111111","strokeWidth":2.5},"encoding":{"y":{"field":"v","type":"quantitative","axis":null},"x":{"datum":7000,"type":"quantitative","axis":null},"x2":{"datum":6943}}},
{"data":{"name":"ymaj2"},"mark":{"type":"rule","color":"#111111","strokeWidth":2.5},"encoding":{"y":{"field":"v","type":"quantitative","axis":null},"x":{"datum":3500,"type":"quantitative","axis":null},"x2":{"datum":3609}}},
{"data":{"name":"ymin2"},"mark":{"type":"rule","color":"#111111","strokeWidth":2.5},"encoding":{"y":{"field":"v","type":"quantitative","axis":null},"x":{"datum":3500,"type":"quantitative","axis":null},"x2":{"datum":3557}}}
],"resolve":{"axis":{"x":"independent","y":"independent"}}},

{"width":612,"height":169,"layer":[
{"data":{"name":"lines"},"transform":[{"filter":"datum.p==='N6791'"}],"mark":{"type":"point","opacity":0},"encoding":{"x":{"field":"T","type":"quantitative","scale":{"domain":[3500,7000],"reverse":true,"nice":false,"zero":false},"axis":{"orient":"bottom","values":[7000,6000,5000,4000],"format":"d","ticks":false,"domain":false,"labelPadding":14,"title":null}},"y":{"field":"y","type":"quantitative","scale":{"domain":[-0.06,0.26],"nice":false,"zero":false},"axis":{"orient":"left","values":[0,0.1,0.2],"format":".2f","ticks":false,"domain":false,"labelPadding":16,"title":null}}}},
{"data":{"name":"bands"},"transform":[{"filter":"datum.p==='N6791'"}],"mark":{"type":"area","color":"#c8c8c8"},"encoding":{"x":{"field":"T","type":"quantitative","axis":null},"y":{"field":"lo","type":"quantitative","axis":null},"y2":{"field":"hi"}}},
{"data":{"values":[{}]},"mark":{"type":"rule","color":"#444444","strokeWidth":1.2,"strokeDash":[4,5]},"encoding":{"y":{"datum":0,"type":"quantitative","axis":null}}},
{"data":{"name":"lines"},"transform":[{"filter":"datum.p==='N6791'"}],"mark":{"type":"line","strokeWidth":3.5,"interpolate":"monotone"},"encoding":{"x":{"field":"T","type":"quantitative","axis":null},"y":{"field":"y","type":"quantitative","axis":null},"color":{"field":"c","type":"nominal","scale":{"domain":["k","g"],"range":["#000000","#7a7a7a"]},"legend":null},"detail":{"field":"s"}}},
{"data":{"name":"plus"},"transform":[{"filter":"datum.p==='N6791'"}],"mark":{"type":"point","shape":"M-1,0L1,0M0,-1L0,1","size":110,"filled":false,"color":"#808080","strokeWidth":1.8,"opacity":1},"encoding":{"x":{"field":"T","type":"quantitative","axis":null},"y":{"field":"y","type":"quantitative","axis":null}}},
{"data":{"values":[{}]},"mark":{"type":"text","align":"left","baseline":"alphabetic","font":"DejaVu Serif","fontSize":26,"color":"#7f7f7f","text":"[Fe/H]=+0.4 (NGC6791)"},"encoding":{"x":{"datum":6694,"type":"quantitative","axis":null},"y":{"datum":0.151,"type":"quantitative","axis":null}}},
{"data":{"values":[{}]},"mark":{"type":"text","align":"center","baseline":"alphabetic","font":"DejaVu Serif","fontSize":38,"color":"#000000","text":"T","dy":92},"encoding":{"x":{"datum":5589,"type":"quantitative","axis":null},"y":{"datum":-0.06,"type":"quantitative","axis":null}}},
{"data":{"values":[{}]},"mark":{"type":"text","align":"left","baseline":"alphabetic","font":"DejaVu Sans","fontWeight":"bold","fontSize":22,"color":"#000000","text":"eff","dy":104},"encoding":{"x":{"datum":5526,"type":"quantitative","axis":null},"y":{"datum":-0.06,"type":"quantitative","axis":null}}},
{"data":{"values":[{}]},"mark":{"type":"text","align":"left","baseline":"alphabetic","font":"DejaVu Serif","fontSize":38,"color":"#000000","text":"(K)","dy":92},"encoding":{"x":{"datum":5223,"type":"quantitative","axis":null},"y":{"datum":-0.06,"type":"quantitative","axis":null}}},
{"data":{"name":"xmaj"},"mark":{"type":"rule","color":"#111111","strokeWidth":2.5},"encoding":{"x":{"field":"v","type":"quantitative","axis":null},"y":{"datum":-0.06,"type":"quantitative","axis":null},"y2":{"datum":-0.024}}},
{"data":{"name":"xmin"},"mark":{"type":"rule","color":"#111111","strokeWidth":2.5},"encoding":{"x":{"field":"v","type":"quantitative","axis":null},"y":{"datum":-0.06,"type":"quantitative","axis":null},"y2":{"datum":-0.041}}},
{"data":{"name":"xmaj"},"mark":{"type":"rule","color":"#111111","strokeWidth":2.5},"encoding":{"x":{"field":"v","type":"quantitative","axis":null},"y":{"datum":0.26,"type":"quantitative","axis":null},"y2":{"datum":0.224}}},
{"data":{"name":"xmin"},"mark":{"type":"rule","color":"#111111","strokeWidth":2.5},"encoding":{"x":{"field":"v","type":"quantitative","axis":null},"y":{"datum":0.26,"type":"quantitative","axis":null},"y2":{"datum":0.241}}},
{"data":{"name":"ymaj2"},"mark":{"type":"rule","color":"#111111","strokeWidth":2.5},"encoding":{"y":{"field":"v","type":"quantitative","axis":null},"x":{"datum":7000,"type":"quantitative","axis":null},"x2":{"datum":6891}}},
{"data":{"name":"ymin2"},"mark":{"type":"rule","color":"#111111","strokeWidth":2.5},"encoding":{"y":{"field":"v","type":"quantitative","axis":null},"x":{"datum":7000,"type":"quantitative","axis":null},"x2":{"datum":6943}}},
{"data":{"name":"ymaj2"},"mark":{"type":"rule","color":"#111111","strokeWidth":2.5},"encoding":{"y":{"field":"v","type":"quantitative","axis":null},"x":{"datum":3500,"type":"quantitative","axis":null},"x2":{"datum":3609}}},
{"data":{"name":"ymin2"},"mark":{"type":"rule","color":"#111111","strokeWidth":2.5},"encoding":{"y":{"field":"v","type":"quantitative","axis":null},"x":{"datum":3500,"type":"quantitative","axis":null},"x2":{"datum":3557}}}
],"resolve":{"axis":{"x":"independent","y":"independent"}}}
],
"config":{
"view":{"stroke":"#000000","strokeWidth":3},
"concat":{"spacing":0},
"axis":{"grid":false,"tickColor":"#000000","tickWidth":2.5,"labelFont":"DejaVu Sans","labelFontWeight":"bold","labelFontSize":24,"labelColor":"#000000","labelFlush":false,"labelOverlap":false,"zindex":1}
}
}
